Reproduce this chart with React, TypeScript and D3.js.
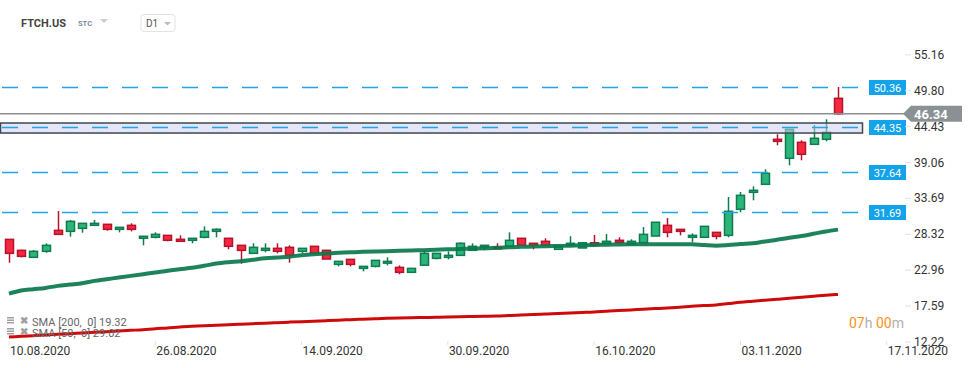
import React, { useEffect, useRef } from 'react';
import * as d3 from 'd3';

// daily candles 10.08.2020 - 13.11.2020
const opens = [27.56, 25.92, 24.87, 25.77, 28.91, 28.76, 29.21, 29.66, 29.81, 29.06, 29.66, 27.72, 27.87, 28.16, 27.57, 27.42, 27.87, 28.76, 27.72, 26.67, 25.47, 25.92, 26.22, 26.37, 25.77, 26.52, 25.92, 23.82, 24.57, 23.22, 23.52, 24.0, 23.37, 22.63, 23.7, 24.72, 24.87, 25.17, 25.92, 26.37, 26.37, 26.52, 27.72, 26.97, 27.27, 26.07, 26.67, 26.27, 27.05, 26.97, 27.42, 26.82, 27.07, 28.06, 29.66, 29.06, 27.87, 27.87, 28.61, 28.16, 32.06, 34.6, 35.8, 42.53, 39.69, 42.08, 41.78, 42.53, 48.66];
const highs = [27.6, 26.0, 25.97, 26.97, 31.8, 30.45, 29.96, 30.45, 29.81, 29.36, 29.96, 28.02, 28.61, 28.16, 28.16, 27.72, 29.51, 29.21, 27.72, 26.67, 26.97, 26.97, 26.97, 26.67, 26.22, 26.52, 25.92, 24.27, 24.57, 23.52, 24.42, 24.87, 23.67, 23.22, 25.77, 25.47, 25.77, 27.12, 26.97, 26.67, 26.97, 28.61, 27.72, 26.97, 27.72, 26.52, 28.02, 27.05, 28.21, 28.36, 27.87, 27.57, 29.4, 30.12, 30.75, 29.06, 28.46, 29.51, 28.61, 33.9, 34.65, 35.5, 38.05, 43.28, 44.03, 42.38, 44.67, 45.52, 50.36];
const lows = [24.07, 24.87, 24.87, 25.56, 28.31, 27.96, 28.56, 29.66, 28.86, 28.61, 28.76, 26.67, 27.72, 27.27, 27.27, 26.97, 27.72, 27.87, 26.07, 23.91, 25.47, 25.62, 25.47, 24.07, 25.47, 25.47, 24.62, 23.52, 23.52, 22.78, 23.37, 23.67, 22.33, 22.63, 23.7, 24.57, 24.57, 25.17, 25.92, 25.92, 26.22, 26.52, 26.67, 26.07, 26.67, 26.07, 26.67, 26.27, 26.67, 26.97, 26.92, 26.82, 27.07, 28.06, 27.87, 28.16, 27.12, 27.87, 27.57, 27.87, 31.61, 33.4, 35.8, 41.64, 38.64, 39.39, 41.78, 42.23, 46.2];
const closes = [25.47, 25.02, 25.77, 26.67, 28.31, 30.26, 29.96, 29.96, 29.06, 29.36, 29.06, 28.02, 28.31, 27.42, 27.27, 27.72, 28.76, 29.06, 26.52, 25.92, 26.37, 26.22, 25.77, 25.17, 26.22, 25.47, 24.62, 24.27, 23.82, 23.52, 24.42, 24.27, 22.63, 23.22, 25.47, 25.47, 25.17, 26.97, 26.52, 26.67, 26.22, 27.42, 26.67, 26.67, 26.67, 26.52, 26.97, 27.05, 26.67, 27.27, 27.12, 27.27, 28.31, 30.12, 28.61, 28.76, 28.16, 29.51, 28.01, 31.76, 34.15, 34.9, 37.45, 42.23, 44.03, 40.29, 42.68, 43.58, 46.34];

const sma50 = [19.43, 19.9, 20.1, 20.3, 20.6, 20.8, 21.0, 21.35, 21.6, 21.85, 22.1, 22.35, 22.6, 22.87, 23.1, 23.3, 23.6, 23.95, 24.15, 24.28, 24.5, 24.73, 24.85, 24.97, 25.2, 25.35, 25.45, 25.55, 25.62, 25.7, 25.75, 25.8, 25.85, 25.9, 25.95, 26.0, 26.07, 26.12, 26.18, 26.22, 26.3, 26.38, 26.45, 26.48, 26.52, 26.57, 26.61, 26.68, 26.72, 26.76, 26.8, 26.82, 26.82, 26.82, 26.82, 26.82, 26.82, 26.7, 26.6, 26.7, 26.85, 26.97, 27.25, 27.5, 27.8, 28.06, 28.4, 28.75, 29.02];
const sma200 = [12.95, 13.05, 13.15, 13.25, 13.35, 13.45, 13.55, 13.65, 13.75, 13.85, 13.95, 14.05, 14.2, 14.3, 14.45, 14.55, 14.65, 14.72, 14.8, 14.87, 14.95, 15.02, 15.1, 15.18, 15.25, 15.32, 15.4, 15.47, 15.55, 15.62, 15.68, 15.74, 15.79, 15.83, 15.87, 15.9, 15.94, 15.98, 16.02, 16.05, 16.09, 16.17, 16.25, 16.32, 16.4, 16.47, 16.55, 16.62, 16.69, 16.8, 16.9, 17.0, 17.1, 17.2, 17.3, 17.4, 17.55, 17.65, 17.75, 17.95, 18.15, 18.3, 18.45, 18.6, 18.75, 18.9, 19.05, 19.2, 19.32];

const priceTicks = [55.16, 49.8, 44.43, 39.06, 33.69, 28.32, 22.96, 17.59, 12.22];
const dateTickIdx = [0, 12, 24, 36, 48, 60, 72];
const dateTickLabels = ['10.08.2020', '26.08.2020', '14.09.2020', '30.09.2020', '16.10.2020', '03.11.2020', '17.11.2020'];
const levels = [50.36, 44.35, 37.64, 31.69];
const zone = [43.47, 44.97];
const lastPrice = 46.34;

const W = 974, H = 368;
const FONT = 'Roboto, Arial, sans-serif';
const UP_FILL = '#2bb57b', UP_LINE = '#0e7c4f';
const DN_FILL = '#f5283f', DN_LINE = '#b5132b';

function Chart() {
  const ref = useRef<SVGSVGElement>(null);

  useEffect(() => {
    const svg = d3.select(ref.current);
    svg.selectAll('*').remove();

    const x = d3.scaleLinear().domain([0, 68]).range([9, 838]);
    const y = d3.scaleLinear().domain([12.22, 55.16]).range([341.9, 54.9]);
    const plotRight = 862;

    // candles
    const candles = svg.append('g');
    opens.forEach((o, i) => {
      const c = closes[i];
      const up = c >= o;
      const cx = Math.round(x(i)) + 0.5;
      candles.append('line')
        .attr('x1', cx).attr('x2', cx)
        .attr('y1', y(highs[i])).attr('y2', y(lows[i]))
        .attr('stroke', up ? UP_LINE : DN_LINE)
        .attr('stroke-width', 1.5);
      const top = y(Math.max(o, c));
      const h = Math.max(1.5, Math.abs(y(o) - y(c)));
      candles.append('rect')
        .attr('x', cx - 4).attr('width', 8)
        .attr('y', top).attr('height', h)
        .attr('fill', up ? UP_FILL : DN_FILL)
        .attr('stroke', up ? UP_LINE : DN_LINE)
        .attr('stroke-width', 1.5);
    });

    // moving averages
    const line = d3.line<number>().x((_, i) => x(i)).y(d => y(d)).curve(d3.curveMonotoneX);
    svg.append('path').attr('d', line(sma200)).attr('fill', 'none')
      .attr('stroke', '#cf0a0a').attr('stroke-width', 3);
    svg.append('path').attr('d', line(sma50)).attr('fill', 'none')
      .attr('stroke', '#0a784c').attr('stroke-width', 4).attr('opacity', 0.92);

    // zone box
    svg.append('rect')
      .attr('x', 0.5).attr('width', plotRight)
      .attr('y', y(zone[1])).attr('height', y(zone[0]) - y(zone[1]))
      .attr('fill', 'rgba(205,208,240,0.55)')
      .attr('stroke', '#3d4852').attr('stroke-width', 1.5);

    // last price line
    svg.append('line')
      .attr('x1', 0).attr('x2', 905)
      .attr('y1', y(lastPrice)).attr('y2', y(lastPrice))
      .attr('stroke', '#8c8f92').attr('stroke-width', 1.5);

    // dashed levels + labels
    levels.forEach(v => {
      const ly = Math.round(y(v)) + 0.5;
      svg.append('line')
        .attr('x1', 2).attr('x2', plotRight)
        .attr('y1', ly).attr('y2', ly)
        .attr('stroke', '#1ea5ea').attr('stroke-width', 1.3)
        .attr('stroke-dasharray', '16,14');
      svg.append('rect')
        .attr('x', 869).attr('y', ly - 7.5).attr('width', 37).attr('height', 15)
        .attr('fill', '#12a3ea');
      svg.append('text')
        .attr('x', 887.5).attr('y', ly + 4)
        .attr('text-anchor', 'middle')
        .attr('fill', '#fff').attr('font-size', 11).attr('font-family', FONT)
        .text(v.toFixed(2));
    });

    // price axis
    priceTicks.forEach(v => {
      svg.append('line')
        .attr('x1', 905).attr('x2', 911)
        .attr('y1', y(v)).attr('y2', y(v))
        .attr('stroke', '#e2e2e2');
      svg.append('text')
        .attr('x', 914).attr('y', y(v) + 4)
        .attr('fill', '#333').attr('font-size', 12).attr('font-family', FONT)
        .text(v.toFixed(2));
    });

    // last price badge
    const py = y(lastPrice);
    svg.append('path')
      .attr('d', `M903,${py} L911,${py - 8} L962,${py - 8} L962,${py + 8} L911,${py + 8} Z`)
      .attr('fill', '#8a9194');
    svg.append('text')
      .attr('x', 914).attr('y', py + 5)
      .attr('fill', '#fff').attr('font-size', 13).attr('font-weight', 'bold').attr('font-family', FONT)
      .text(lastPrice.toFixed(2));

    // date axis
    dateTickIdx.forEach((idx, k) => {
      const tx = x(idx);
      svg.append('line')
        .attr('x1', tx).attr('x2', tx).attr('y1', 341).attr('y2', 345)
        .attr('stroke', '#e2e2e2');
      svg.append('text')
        .attr('x', tx + 1).attr('y', 355)
        .attr('fill', '#333').attr('font-size', 12).attr('font-family', FONT)
        .text(dateTickLabels[k]);
    });

    // legend
    const legend = [`SMA [200,  0] ${sma200[sma200.length - 1].toFixed(2)}`, `SMA [50,  0] ${sma50[sma50.length - 1].toFixed(2)}`];
    legend.forEach((t, k) => {
      const ly = 322 + k * 11;
      const g = svg.append('g').attr('fill', '#a0a0a0');
      g.append('rect').attr('x', 7).attr('y', ly - 5).attr('width', 7).attr('height', 1.5);
      g.append('rect').attr('x', 7).attr('y', ly - 2.5).attr('width', 7).attr('height', 1.5);
      g.append('rect').attr('x', 7).attr('y', ly).attr('width', 7).attr('height', 1.5);
      g.append('text').attr('x', 20).attr('y', ly + 2)
        .attr('font-size', 10).attr('font-weight', 'bold').attr('font-family', FONT).text('✖');
      svg.append('text').attr('x', 32).attr('y', ly + 4)
        .attr('fill', '#666').attr('font-size', 11).attr('font-family', FONT)
        .style('white-space', 'pre')
        .text(t);
    });

    // countdown
    const cd = svg.append('text').attr('x', 849).attr('y', 328)
      .attr('font-size', 14).attr('font-family', FONT);
    cd.append('tspan').attr('fill', '#f7941d').text('07');
    cd.append('tspan').attr('fill', '#b0b0b0').text('h ');
    cd.append('tspan').attr('fill', '#f7941d').text('00');
    cd.append('tspan').attr('fill', '#b0b0b0').text('m');

    // header
    svg.append('text').attr('x', 21).attr('y', 27)
      .attr('fill', '#444').attr('font-size', 11).attr('font-weight', 'bold').attr('font-family', FONT)
      .text('FTCH.US');
    svg.append('text').attr('x', 78).attr('y', 26)
      .attr('fill', '#7b8a99').attr('font-size', 7.5).attr('font-weight', 'bold').attr('font-family', FONT)
      .text('STC');
    svg.append('path').attr('d', 'M100,19 L108,19 L104,23 Z').attr('fill', '#ccc');
    svg.append('rect').attr('x', 141).attr('y', 14.5).attr('width', 34).attr('height', 17).attr('rx', 3)
      .attr('fill', '#fff').attr('stroke', '#e3e3e3');
    svg.append('text').attr('x', 146).attr('y', 27)
      .attr('fill', '#555').attr('font-size', 10).attr('font-family', FONT).text('D1');
    svg.append('path').attr('d', 'M164,22 L171,22 L167.5,25.5 Z').attr('fill', '#bbb');
  }, []);

  return <svg ref={ref} width={W} height={H} style={{ position: 'absolute', left: 0, top: 0, background: '#fff' }} />;
}

export default function App() {
  return <Chart />;
}
